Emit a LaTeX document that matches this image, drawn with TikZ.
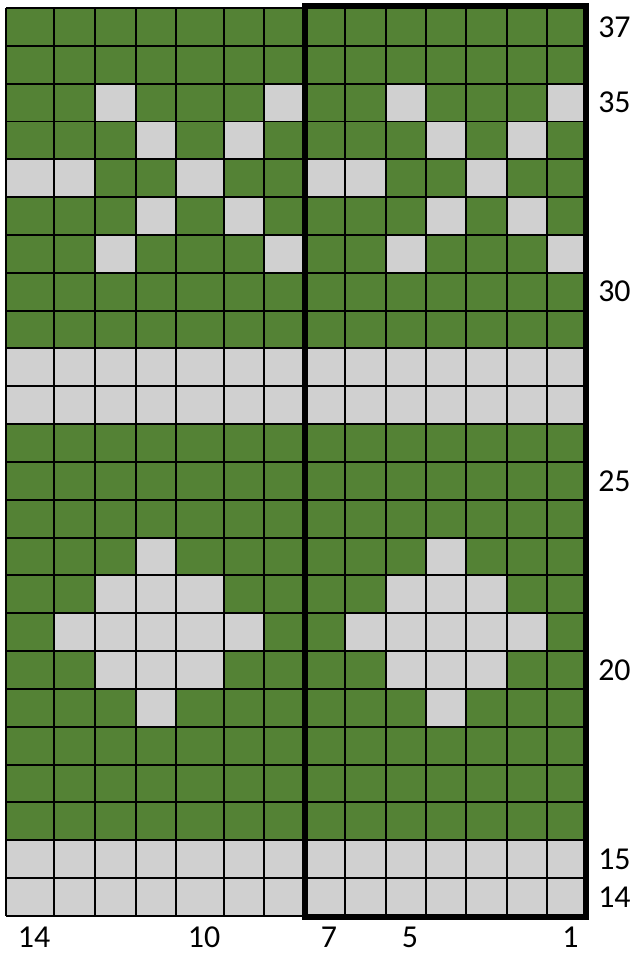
\documentclass[tikz,border=0pt]{standalone}
\usepackage{fontspec}
\setmainfont{Carlito}
\usepackage{tikz}
\definecolor{stitchgreen}{HTML}{548235}
\definecolor{stitchgray}{HTML}{D0D0D0}
\tikzset{
  rowlabel/.style={anchor=west,inner sep=0pt,font=\fontsize{24}{28}\selectfont},
  collabel/.style={anchor=center,inner sep=0pt,font=\fontsize{24}{28}\selectfont},
}

\begin{document}
\begin{tikzpicture}[x=0.752pt,y=-0.752pt]
    \useasboundingbox (0,0) rectangle (632,956);
    \def\colx{{6,54,95,136,176,224,264,305,345,386,426,466,507,547,586}}
    \def\rowh{37.83}
    % background stitches
    \fill[stitchgreen] (6,8) rectangle (586,916);
    % light stitches, the same in both halves
    \foreach \r/\cs in {35/{2,6},34/{3,5},33/{0,1,4},32/{3,5},31/{2,6},
                        23/{3},22/{2,3,4},21/{1,2,3,4,5},20/{2,3,4},19/{3}}{
      \foreach \c in \cs {
        \foreach \h in {0,7}{
          \pgfmathsetmacro\xa{\colx[\c+\h]}
          \pgfmathsetmacro\xb{\colx[\c+\h+1]}
          \pgfmathsetmacro\ya{8+(37-\r)*\rowh}
          \fill[stitchgray] (\xa,\ya) rectangle (\xb,{\ya+\rowh});
        }
      }
    }
    \foreach \r in {28,27,15,14}{
      \pgfmathsetmacro\ya{8+(37-\r)*\rowh}
      \fill[stitchgray] (6,\ya) rectangle (586,{\ya+\rowh});
    }
    % grid
    \foreach \i in {0,...,14}{
      \pgfmathsetmacro\xa{\colx[\i]}
      \draw[line width=1.5pt] (\xa,8) -- (\xa,916);
    }
    \foreach \j in {0,...,24}{
      \draw[line width=1.5pt] (6,{8+\j*\rowh}) -- (586,{8+\j*\rowh});
    }
    % repeat
    \draw[line width=3.8pt] (305,6) rectangle (586,917);
    % row numbers
    \foreach \r in {37,35,30,25,20,15,14}{
      \node[rowlabel] (row\r) at (598,{8+(37.5-\r)*\rowh}) {\r};
    }
    % stitch numbers
    \foreach \n/\i in {14/0,10/4,7/7,5/9,1/13}{
      \pgfmathsetmacro\xa{\colx[\i]}
      \pgfmathsetmacro\xb{\colx[\i+1]}
      \pgfmathsetmacro\xm{(\xa+\xb)/2+4}
      \node[collabel] (col\n) at (\xm,937) {\n};
    }
\end{tikzpicture}
\end{document}
